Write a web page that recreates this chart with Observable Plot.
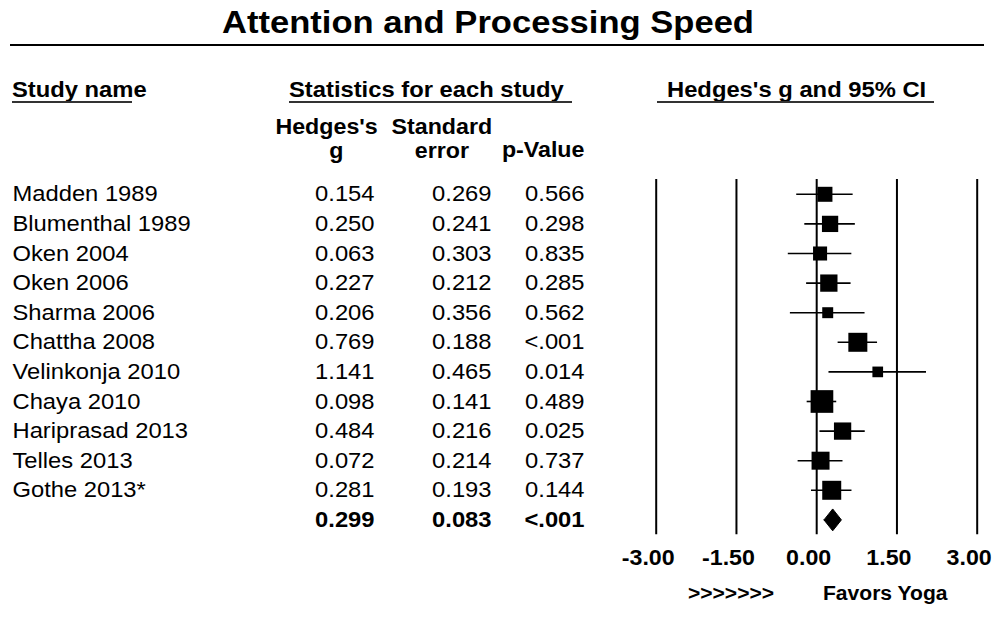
<!DOCTYPE html>
<html>
<head>
<meta charset="utf-8">
<script src="https://cdn.jsdelivr.net/npm/d3@7"></script>
<script src="https://cdn.jsdelivr.net/npm/@observablehq/plot@0.6"></script>
<style>
  html, body { margin: 0; padding: 0; background: #fff; }
  #chart { position: relative; width: 992px; height: 628px; font-family: Arial, "Liberation Sans", sans-serif; color: #000; overflow: hidden; }
  .t { position: absolute; white-space: nowrap; line-height: 0.9; }
  .b { font-weight: bold; }
  .L { transform-origin: left center; transform: scaleX(1.08); }
  .R { transform-origin: right center; transform: scaleX(1.08); }
  .C { transform-origin: center center; transform: translateX(-50%) scaleX(1.08); }
  .two { line-height: 24px; text-align: center; }
  .hr { position: absolute; background: #000; }
  .ul { position: absolute; background: #333; height: 1.6px; }
  #plots { position: absolute; left: 0; top: 179.2px; display: flex; }
  #plots svg { overflow: visible; display: block; }
</style>
</head>
<body>
<div id="chart">
  <div class="t b C" style="left:488px;top:7.5px;font-size:32px;">Attention and Processing Speed</div>
  <div class="hr" style="left:10px;width:974px;top:44px;height:2px;"></div>

  <div class="t b L" style="left:12px;top:79.5px;font-size:22px;">Study name</div>
  <div class="ul" style="left:12px;width:120px;top:101px;"></div>
  <div class="t b L" style="left:289px;top:79.5px;font-size:22px;">Statistics for each study</div>
  <div class="ul" style="left:289px;width:283px;top:101px;"></div>
  <div class="t b L" style="left:667px;top:79.5px;font-size:22px;">Hedges's g and 95% CI</div>
  <div class="ul" style="left:657px;width:277px;top:101px;"></div>

  <div class="t b R two" style="right:614px;top:114.75px;font-size:21.5px;">Hedges's<br><span style="position:relative;left:9px;">g</span></div>
  <div class="t b R two" style="right:500px;top:114.75px;font-size:21.5px;">Standard<br>error</div>
  <div class="t b R" style="right:408px;top:141.1px;font-size:21.5px;">p-Value</div>

  <div id="plots"></div>

  <div class="t b C" style="left:731px;top:584.5px;font-size:19.5px;">&gt;&gt;&gt;&gt;&gt;&gt;&gt;</div>
  <div class="t b L" style="left:823px;top:584.5px;font-size:19.5px;">Favors Yoga</div>
</div>
<script>
// ---- data ----
const studies = ["Madden 1989", "Blumenthal 1989", "Oken 2004", "Oken 2006", "Sharma 2006",
  "Chattha 2008", "Velinkonja 2010", "Chaya 2010", "Hariprasad 2013", "Telles 2013", "Gothe 2013*"];
const hedgesG = [0.154, 0.250, 0.063, 0.227, 0.206, 0.769, 1.141, 0.098, 0.484, 0.072, 0.281];
const stdErr  = [0.269, 0.241, 0.303, 0.212, 0.356, 0.188, 0.465, 0.141, 0.216, 0.214, 0.193];
const pValues = ["0.566", "0.298", "0.835", "0.285", "0.562", "<.001", "0.014", "0.489", "0.025", "0.737", "0.144"];
const relWeight = [7.3, 8.6, 6.4, 9.7, 3.9, 11.7, 3.7, 16.7, 9.7, 10.5, 11.7]; // square areas (estimated)
const summaryG = 0.299;
const summarySE = 0.083;
const summaryP = "<.001";
const xTicks = [-3, -1.5, 0, 1.5, 3];

// ---- build tables ----
const K = 1.08; // the original lettering is slightly wider than Arial
const z = 1.96;
const rows = studies.map((name, i) => ({
  row: i + 1, name, g: hedgesG[i], se: stdErr[i], p: pValues[i], w: relWeight[i],
  lo: hedgesG[i] - z * stdErr[i], hi: hedgesG[i] + z * stdErr[i]
}));
const sumRow = [{row: studies.length + 1, g: summaryG, se: summarySE, p: summaryP,
  lo: summaryG - z * summarySE, hi: summaryG + z * summarySE}];
const nRows = studies.length + 1;
const dh = 0.37; // diamond half-height in rows
const s = sumRow[0];
const diamond = [
  {x: s.lo, y: s.row}, {x: s.g, y: s.row - dh}, {x: s.hi, y: s.row}, {x: s.g, y: s.row + dh}, {x: s.lo, y: s.row}
];

const FRAME = 355.2, MB = 60;
const yScale = {domain: [0.5, nRows + 0.5], reverse: true, axis: null};
const fs = 22;
const common = {height: FRAME + MB, marginTop: 0, marginBottom: MB, y: yScale, x: {axis: null},
  style: {fontFamily: 'Arial, "Liberation Sans", sans-serif', overflow: "visible", background: "transparent"}};

function stretch(svg) {
  svg.querySelectorAll("text").forEach(t => {
    const tr = t.getAttribute("transform");
    if (tr) t.setAttribute("transform", tr + ` scale(${K},1)`);
    else {
      const x = +(t.getAttribute("x") || 0);
      t.setAttribute("transform", `translate(${x},0) scale(${K},1) translate(${-x},0)`);
    }
  });
  return svg;
}

function textCol(width, field, fmt, opts) {
  const f = d => fmt(d[field]);
  return stretch(Plot.plot({
    ...common, width, marginLeft: opts.ml ?? 0, marginRight: opts.mr ?? 0,
    marks: [
      Plot.text(rows, {y: "row", text: f, frameAnchor: opts.anchor, textAnchor: opts.ta, fontSize: fs, fill: "black"}),
      opts.summary ? Plot.text(sumRow, {y: "row", text: f, frameAnchor: opts.anchor, textAnchor: opts.ta, fontSize: fs, fontWeight: "bold", fill: "black"}) : null
    ]
  }));
}

const fmt3 = d3.format(".3f");
const namesPlot = textCol(300, "name", d => d, {anchor: "left", ta: "start", ml: 12, summary: false});
const gPlot = textCol(74, "g", fmt3, {anchor: "right", ta: "end", summary: true});
const sePlot = textCol(117, "se", fmt3, {anchor: "right", ta: "end", summary: true});
const pPlot = textCol(93, "p", d => d, {anchor: "right", ta: "end", summary: true});

const forest = stretch(Plot.plot({
  ...common,
  width: 408, marginLeft: 71.7, marginRight: 15.3,
  x: {domain: [-3, 3], axis: null},
  r: {range: [0, 12.8]},
  marks: [
    Plot.ruleX(xTicks, {stroke: "black", strokeWidth: 2}),
    Plot.ruleY(rows, {y: "row", x1: "lo", x2: "hi", stroke: "black", strokeWidth: 1.6}),
    Plot.dot(rows, {x: "g", y: "row", r: "w", symbol: "square", fill: "black", stroke: null}),
    Plot.line(diamond, {x: "x", y: "y", fill: "black", stroke: "black", strokeWidth: 1}),
    Plot.text(xTicks, {x: d => d, text: d => d.toFixed(2), frameAnchor: "bottom", lineAnchor: "top",
      dy: 15, dx: -8, fontSize: 21.5, fontWeight: "bold", fill: "black"})
  ]
}));

const holder = document.getElementById("plots");
[namesPlot, gPlot, sePlot, pPlot, forest].forEach(p => holder.appendChild(p));
</script>
</body>
</html>
